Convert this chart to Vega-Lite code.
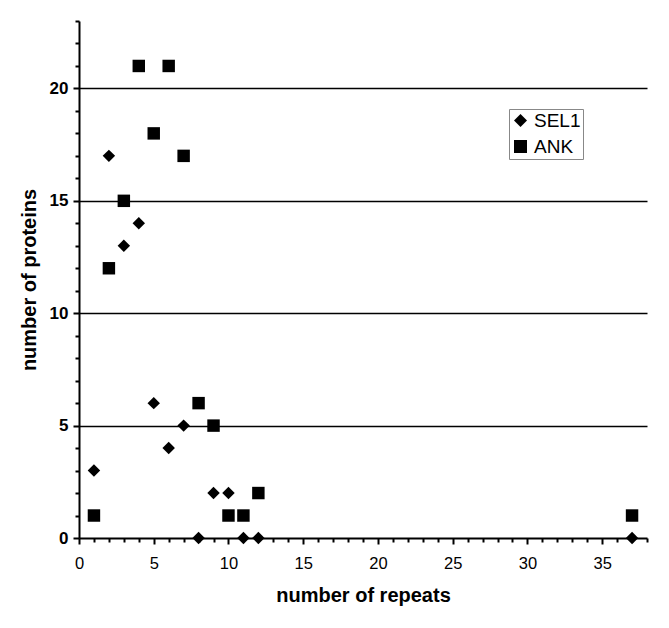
{
  "$schema": "https://vega.github.io/schema/vega-lite/v6.json",
  "width": 568,
  "height": 517,
  "autosize": "none",
  "padding": {"left": 79, "top": 21, "right": 22, "bottom": 90},
  "background": "white",
  "config": {
    "view": {"stroke": null},
    "font": "Liberation Sans"
  },
  "data": {
    "values": [
      {"repeats": 1, "proteins": 3, "family": "SEL1"},
      {"repeats": 2, "proteins": 17, "family": "SEL1"},
      {"repeats": 3, "proteins": 13, "family": "SEL1"},
      {"repeats": 4, "proteins": 14, "family": "SEL1"},
      {"repeats": 5, "proteins": 6, "family": "SEL1"},
      {"repeats": 6, "proteins": 4, "family": "SEL1"},
      {"repeats": 7, "proteins": 5, "family": "SEL1"},
      {"repeats": 8, "proteins": 0, "family": "SEL1"},
      {"repeats": 9, "proteins": 2, "family": "SEL1"},
      {"repeats": 10, "proteins": 2, "family": "SEL1"},
      {"repeats": 11, "proteins": 0, "family": "SEL1"},
      {"repeats": 12, "proteins": 0, "family": "SEL1"},
      {"repeats": 37, "proteins": 0, "family": "SEL1"},
      {"repeats": 1, "proteins": 1, "family": "ANK"},
      {"repeats": 2, "proteins": 12, "family": "ANK"},
      {"repeats": 3, "proteins": 15, "family": "ANK"},
      {"repeats": 4, "proteins": 21, "family": "ANK"},
      {"repeats": 5, "proteins": 18, "family": "ANK"},
      {"repeats": 6, "proteins": 21, "family": "ANK"},
      {"repeats": 7, "proteins": 17, "family": "ANK"},
      {"repeats": 8, "proteins": 6, "family": "ANK"},
      {"repeats": 9, "proteins": 5, "family": "ANK"},
      {"repeats": 10, "proteins": 1, "family": "ANK"},
      {"repeats": 11, "proteins": 1, "family": "ANK"},
      {"repeats": 12, "proteins": 2, "family": "ANK"},
      {"repeats": 37, "proteins": 1, "family": "ANK"}
    ]
  },
  "mark": {"type": "point", "filled": true, "color": "black", "opacity": 1, "size": 155, "clip": false},
  "encoding": {
    "x": {
      "field": "repeats",
      "type": "quantitative",
      "title": "number of repeats",
      "scale": {"domain": [0, 38], "nice": false, "zero": false},
      "axis": {
        "values": [0,1,2,3,4,5,6,7,8,9,10,11,12,13,14,15,16,17,18,19,20,21,22,23,24,25,26,27,28,29,30,31,32,33,34,35,36,37,38],
        "labelExpr": "datum.value % 5 === 0 ? datum.label : ''",
        "labelOverlap": false,
        "labelFontSize": 16.5,
        "labelColor": "black",
        "labelPadding": 11,
        "labelFlush": false,
        "domainColor": "black",
        "domainWidth": 2,
        "tickColor": "black",
        "tickWidth": 2,
        "tickSize": {"condition": {"test": "datum.value % 5 === 0", "value": 6}, "value": 4},
        "grid": false,
        "titleFontSize": 20,
        "titleFontWeight": "bold",
        "titleColor": "black",
        "titlePadding": 14
      }
    },
    "y": {
      "field": "proteins",
      "type": "quantitative",
      "title": "number of proteins",
      "scale": {"domain": [0, 23], "nice": false},
      "axis": {
        "values": [0,1,2,3,4,5,6,7,8,9,10,11,12,13,14,15,16,17,18,19,20,21,22,23],
        "labelExpr": "datum.value % 5 === 0 ? datum.label : ''",
        "labelOverlap": false,
        "labelFontSize": 17,
        "labelFontWeight": "bold",
        "labelColor": "black",
        "labelPadding": 5,
        "domainColor": "black",
        "domainWidth": 2,
        "tickColor": "black",
        "tickWidth": 2,
        "tickSize": {"condition": {"test": "datum.value % 5 === 0", "value": 6}, "value": 4},
        "grid": true,
        "gridColor": "black",
        "gridWidth": 1.4,
        "gridOpacity": {"condition": {"test": "datum.value % 5 === 0 && datum.value > 0", "value": 1}, "value": 0},
        "titleFontSize": 20,
        "titleFontWeight": "bold",
        "titleColor": "black",
        "titlePadding": 10
      }
    },
    "shape": {
      "field": "family",
      "type": "nominal",
      "scale": {"domain": ["SEL1", "ANK"], "range": ["diamond", "square"]},
      "legend": {
        "title": null,
        "orient": "none",
        "legendX": 430,
        "legendY": 88,
        "strokeColor": "#888888",
        "fillColor": "white",
        "padding": 2,
        "rowPadding": 6,
        "labelFontSize": 19,
        "labelColor": "black",
        "labelOffset": 4,
        "symbolFillColor": "black",
        "symbolStrokeColor": "black",
        "symbolStrokeWidth": 0,
        "symbolSize": 170,
        "symbolOpacity": 1
      }
    }
  }
}
